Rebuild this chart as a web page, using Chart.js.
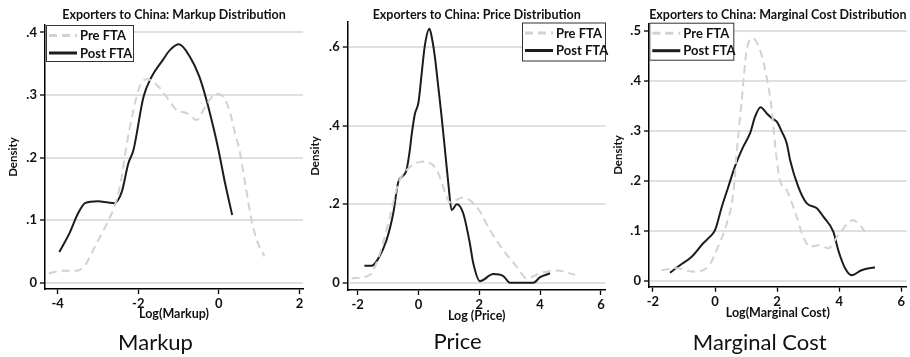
<!DOCTYPE html>
<html>
<head>
<meta charset="utf-8">
<script src="https://cdn.jsdelivr.net/npm/chart.js@4.4.1/dist/chart.umd.min.js"></script>
<style>
  body { margin: 0; background: #fff; }
  #wrap { position: relative; width: 910px; height: 357px; overflow: hidden; }
  canvas { position: absolute; top: 0; }
</style>
</head>
<body>
<div id="wrap">
  <canvas id="markup" width="310" height="357" style="left:0px"></canvas>
  <canvas id="price" width="305" height="357" style="left:306px"></canvas>
  <canvas id="mcost" width="300" height="357" style="left:610px"></canvas>
</div>
<script>
// series labels
const seriesLabels = ['Pre FTA', 'Post FTA'];

// Markup panel
const markupPreX = [-4.22, -3.86, -3.53, -3.32, -3.12, -2.95, -2.7, -2.54, -2.41, -2.31, -2.12, -1.97, -1.79, -1.54, -1.3, -1.05, -0.8, -0.55, -0.34, -0.07, 0.11, 0.28, 0.4, 0.51, 0.65, 0.81, 0.94, 1.13];
const markupPreY = [0.015, 0.019, 0.019, 0.028, 0.052, 0.073, 0.105, 0.132, 0.169, 0.212, 0.276, 0.313, 0.325, 0.316, 0.297, 0.276, 0.271, 0.26, 0.281, 0.302, 0.297, 0.271, 0.239, 0.212, 0.159, 0.1, 0.068, 0.042];
const markupPostX = [-3.96, -3.7, -3.5, -3.32, -3.0, -2.75, -2.6, -2.41, -2.25, -2.12, -1.87, -1.67, -1.39, -1.21, -0.99, -0.72, -0.49, -0.3, -0.14, -0.01, 0.15, 0.33];
const markupPostY = [0.049, 0.08, 0.11, 0.127, 0.13, 0.128, 0.127, 0.145, 0.19, 0.212, 0.297, 0.329, 0.356, 0.372, 0.381, 0.361, 0.33, 0.29, 0.249, 0.212, 0.16, 0.108];
const markupXTicks = [-4, -2, 0, 2];
const markupYTicks = [0, 0.1, 0.2, 0.3, 0.4];

// Price panel
const pricePreX = [-2.2, -1.6, -1.27, -0.94, -0.66, -0.39, 0.16, 0.6, 0.93, 1.03, 1.47, 1.91, 2.35, 2.79, 3.23, 3.56, 4.0, 4.55, 5.15];
const pricePreY = [0.011, 0.02, 0.075, 0.168, 0.254, 0.287, 0.309, 0.287, 0.219, 0.205, 0.217, 0.194, 0.134, 0.083, 0.041, 0.011, 0.024, 0.031, 0.02];
const pricePostX = [-1.78, -1.54, -1.32, -1.05, -0.83, -0.66, -0.41, -0.3, -0.22, -0.12, 0.0, 0.1, 0.21, 0.36, 0.45, 0.54, 0.65, 0.76, 0.87, 0.98, 1.09, 1.26, 1.47, 1.69, 1.8, 2.02, 2.46, 2.79, 3.01, 3.78, 4.0, 4.33];
const pricePostY = [0.043, 0.043, 0.062, 0.109, 0.177, 0.258, 0.283, 0.33, 0.38, 0.43, 0.46, 0.53, 0.605, 0.647, 0.62, 0.575, 0.5, 0.423, 0.339, 0.254, 0.185, 0.2, 0.177, 0.1, 0.05, 0.004, 0.022, 0.017, 0, 0, 0.014, 0.024];
const priceXTicks = [-2, 0, 2, 4, 6];
const priceYTicks = [0, 0.2, 0.4, 0.6];

// Marginal cost panel
const mcPreX = [-1.72, -1.23, -0.7, -0.22, 0.05, 0.38, 0.59, 0.7, 0.86, 1.02, 1.21, 1.45, 1.66, 1.83, 1.93, 1.99, 2.09, 2.31, 2.63, 2.84, 3.06, 3.33, 3.65, 3.97, 4.45, 4.67, 4.83];
const mcPreY = [0.021, 0.025, 0.018, 0.028, 0.061, 0.115, 0.175, 0.258, 0.361, 0.461, 0.485, 0.461, 0.408, 0.341, 0.275, 0.241, 0.201, 0.181, 0.128, 0.088, 0.068, 0.071, 0.065, 0.091, 0.121, 0.111, 0.098];
const mcPostX = [-1.45, -1.13, -0.75, -0.38, -0.16, 0.0, 0.22, 0.43, 0.64, 0.91, 1.13, 1.29, 1.47, 1.66, 1.83, 1.99, 2.15, 2.31, 2.42, 2.68, 2.95, 3.28, 3.49, 3.81, 3.97, 4.19, 4.4, 4.72, 5.15];
const mcPostY = [0.016, 0.031, 0.048, 0.075, 0.088, 0.101, 0.148, 0.188, 0.228, 0.268, 0.295, 0.328, 0.347, 0.335, 0.325, 0.318, 0.298, 0.275, 0.241, 0.188, 0.155, 0.145, 0.128, 0.098, 0.061, 0.025, 0.011, 0.021, 0.027];
const mcXTicks = [-2, 0, 2, 4, 6];
const mcYTicks = [0, 0.1, 0.2, 0.3, 0.4, 0.5];

const FONT = "Lato, 'DejaVu Sans Condensed', sans-serif";
Chart.defaults.font.family = FONT;
Chart.defaults.font.weight = 'bold';
Chart.defaults.font.size = 12;
Chart.defaults.color = '#111';

const preColor = '#d2d2d2';
const postColor = '#1c1c1c';

function toPoints(xs, ys) {
  return xs.map((x, i) => ({ x: x, y: ys[i] }));
}

function fmtDensity(v) {
  if (v === 0) return '0';
  return String(+v.toFixed(2)).replace('0.', '.');
}

// legend in a box over the plot area, Stata style
const boxLegend = {
  id: 'boxLegend',
  afterDatasetsDraw(chart, args, opts) {
    const { ctx, chartArea } = chart;
    const w = opts.w, h = opts.h;
    const x = opts.side === 'right' ? chartArea.right - w + opts.dx : chartArea.left + opts.dx;
    const y = chartArea.top + opts.dy;
    ctx.save();
    ctx.fillStyle = '#fff';
    ctx.fillRect(x, y, w, h);
    ctx.strokeStyle = '#333';
    ctx.lineWidth = 1;
    ctx.strokeRect(x + 0.5, y + 0.5, w - 1, h - 1);
    chart.data.datasets.forEach((ds, i) => {
      const ry = y + 10.5 + i * 17.5;
      ctx.beginPath();
      ctx.setLineDash(ds.borderDash || []);
      ctx.strokeStyle = ds.borderColor;
      ctx.lineWidth = 3;
      ctx.moveTo(x + 3, ry);
      ctx.lineTo(x + 31, ry);
      ctx.stroke();
      ctx.setLineDash([]);
      ctx.fillStyle = '#111';
      ctx.font = 'bold 13px ' + FONT;
      ctx.textBaseline = 'middle';
      ctx.fillText(ds.label, x + 34, ry + 0.5);
    });
    ctx.restore();
  }
};

function makePanel(id, cfg) {
  new Chart(document.getElementById(id), {
    type: 'line',
    data: {
      datasets: [
        {
          label: seriesLabels[0],
          data: toPoints(cfg.preX, cfg.preY),
          borderColor: preColor,
          borderWidth: 2,
          borderDash: [8, 5],
          pointRadius: 0,
          cubicInterpolationMode: 'monotone',
          fill: false
        },
        {
          label: seriesLabels[1],
          data: toPoints(cfg.postX, cfg.postY),
          borderColor: postColor,
          borderWidth: 2,
          pointRadius: 0,
          cubicInterpolationMode: 'monotone',
          fill: false
        }
      ]
    },
    options: {
      responsive: false,
      animation: false,
      devicePixelRatio: 1,
      layout: { padding: { left: cfg.padL, right: cfg.padR, top: 0, bottom: cfg.padB } },
      scales: {
        x: {
          type: 'linear',
          min: cfg.xMin,
          max: cfg.xMax,
          afterBuildTicks: s => { s.ticks = cfg.xTicks.map(v => ({ value: v })); },
          afterFit: s => { s.height = cfg.xH; },
          ticks: { padding: 2, font: { size: 13 }, callback: v => String(v) },
          grid: { drawOnChartArea: false, drawTicks: true, tickLength: 5, tickColor: '#000', tickWidth: 1.3 },
          border: { display: true, color: '#000', width: 1.5 },
          title: { display: true, text: cfg.xTitle, font: { size: 12.5 }, padding: { top: 0, bottom: cfg.xTitlePad } }
        },
        y: {
          type: 'linear',
          min: cfg.yMin,
          max: cfg.yMax,
          afterBuildTicks: s => { s.ticks = cfg.yTicks.map(v => ({ value: v })); },
          afterFit: s => { s.width = cfg.yW; },
          ticks: { padding: 3, font: { size: 13 }, callback: v => fmtDensity(v) },
          grid: { color: '#e0e0e0', lineWidth: 2, drawTicks: true, tickLength: 5, tickColor: '#000', tickWidth: 1.3 },
          border: { display: true, color: '#000', width: 1.5 },
          title: { display: true, text: 'Density', font: { size: 11.5, lineHeight: 1 }, padding: 0 }
        }
      },
      plugins: {
        legend: { display: false },
        tooltip: { enabled: false },
        title: {
          display: true,
          text: cfg.title,
          fullSize: false,
          font: { size: 12.5, weight: 'bold', lineHeight: 1.2 },
          color: '#111',
          padding: { top: cfg.tPadT, bottom: cfg.tPadB }
        },
        subtitle: {
          display: true,
          position: 'bottom',
          text: cfg.caption,
          color: '#111',
          font: { family: 'Lato', size: 22, weight: 'normal', lineHeight: 1.2 },
          padding: 0
        },
        boxLegend: cfg.legend
      }
    },
    plugins: [boxLegend]
  });
}

makePanel('markup', {
  preX: markupPreX, preY: markupPreY, postX: markupPostX, postY: markupPostY,
  xTicks: markupXTicks, yTicks: markupYTicks,
  xMin: -4.315, xMax: 2.087, yMin: -0.0101, yMax: 0.4117,
  title: 'Exporters to China: Markup Distribution', xTitle: 'Log(Markup)', caption: 'Markup',
  padL: 8, padR: 7, padB: 0.5, yW: 37, xH: 41.1, xTitlePad: 8.9, tPadT: 7.5, tPadB: 2.5,
  legend: { side: 'left', dx: 1, dy: 0, w: 88, h: 37 }
});

makePanel('price', {
  preX: pricePreX, preY: pricePreY, postX: pricePostX, postY: pricePostY,
  xTicks: priceXTicks, yTicks: priceYTicks,
  xMin: -2.329, xMax: 6.158, yMin: -0.0186, yMax: 0.6645,
  title: 'Exporters to China: Price Distribution', xTitle: 'Log (Price)', caption: 'Price',
  padL: 3.5, padR: 5.3, padB: 2.1, yW: 38.2, xH: 38.5, xTitlePad: 4.8, tPadT: 7, tPadB: 0,
  legend: { side: 'right', dx: 0.3, dy: 0.5, w: 84, h: 39 }
});

makePanel('mcost', {
  preX: mcPreX, preY: mcPreY, postX: mcPostX, postY: mcPostY,
  xTicks: mcXTicks, yTicks: mcYTicks,
  xMin: -2.126, xMax: 6.174, yMin: -0.012, yMax: 0.5148,
  title: 'Exporters to China: Marginal Cost Distribution', xTitle: 'Log(Marginal Cost)', caption: 'Marginal Cost',
  padL: 2.8, padR: 3.3, padB: 0.5, yW: 36.2, xH: 43.4, xTitlePad: 9.4, tPadT: 7.5, tPadB: 0.8,
  legend: { side: 'left', dx: 0.3, dy: -0.6, w: 85, h: 38 }
});
</script>
</body>
</html>
